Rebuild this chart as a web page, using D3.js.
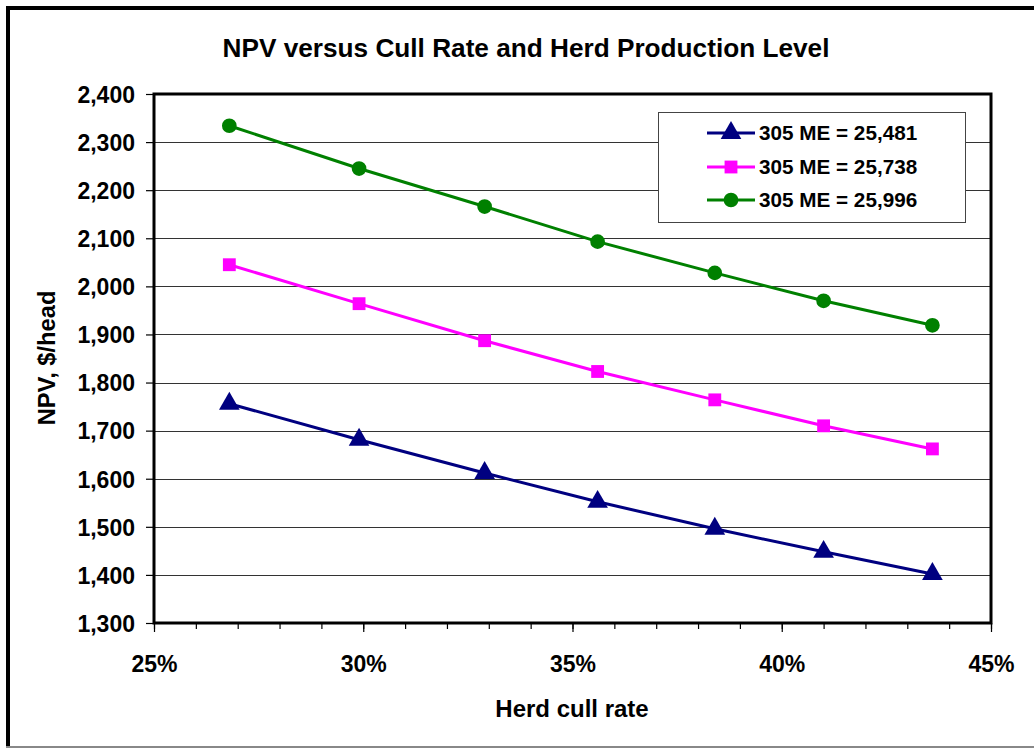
<!DOCTYPE html>
<html>
<head>
<meta charset="utf-8">
<script src="https://cdn.jsdelivr.net/npm/d3@7"></script>
<style>
  body { margin: 0; background: #fff; }
  text { font-family: "Liberation Sans", Arial, sans-serif; font-weight: bold; fill: #000; }
</style>
</head>
<body>
<script>
var width = 1034,
    height = 748;

// herd cull rate (%) and NPV ($/head) for each production level
var cullRate = [26.8, 29.9, 32.9, 35.6, 38.4, 41.0, 43.6];
var npvLow = [1756, 1681, 1612, 1552, 1496, 1448, 1402];
var npvMid = [2045, 1964, 1887, 1823, 1764, 1710, 1662];
var npvHigh = [2334, 2245, 2166, 2093, 2028, 1970, 1919];
var seriesNames = ["305 ME = 25,481", "305 ME = 25,738", "305 ME = 25,996"];
var yTicks = [1300, 1400, 1500, 1600, 1700, 1800, 1900, 2000, 2100, 2200, 2300, 2400];
var xTicks = [25, 30, 35, 40, 45];

var series = [
  { name: seriesNames[0], values: npvLow, color: "#000080", shape: d3.symbolTriangle, size: 185 },
  { name: seriesNames[1], values: npvMid, color: "#FF00FF", shape: d3.symbolSquare, size: 165 },
  { name: seriesNames[2], values: npvHigh, color: "#008000", shape: d3.symbolCircle, size: 170 }
];

var plot = { left: 154, top: 94, right: 991, bottom: 623 };

var svg = d3.select("body").append("svg")
    .attr("width", width)
    .attr("height", height);

// outer frame
svg.append("line").attr("x1", 8).attr("y1", 6).attr("x2", 8).attr("y2", 748)
    .attr("stroke", "#000").attr("stroke-width", 4);
svg.append("line").attr("x1", 6).attr("y1", 8).attr("x2", 1034).attr("y2", 8)
    .attr("stroke", "#000").attr("stroke-width", 4);
svg.append("line").attr("x1", 6).attr("y1", 747).attr("x2", 1034).attr("y2", 747)
    .attr("stroke", "#888").attr("stroke-width", 2);

var x = d3.scaleLinear().domain([25, 45]).range([plot.left, plot.right]);
var y = d3.scaleLinear().domain([1300, 2400]).range([plot.bottom, plot.top]);

// gridlines
svg.append("g").selectAll("line")
  .data(yTicks.slice(1, -1))
  .enter().append("line")
    .attr("x1", plot.left).attr("x2", plot.right)
    .attr("y1", function(d) { return Math.round(y(d)) + 0.5; })
    .attr("y2", function(d) { return Math.round(y(d)) + 0.5; })
    .attr("stroke", "#333").attr("stroke-width", 1);

// y axis
var yAxis = svg.append("g")
    .attr("transform", "translate(" + plot.left + ",0)")
    .call(d3.axisLeft(y).tickValues(yTicks).tickSize(8).tickPadding(11)
      .tickFormat(d3.format(",")));
yAxis.select(".domain").remove();
yAxis.selectAll("line").attr("stroke", "#000").attr("stroke-width", 1.2);
yAxis.selectAll("text").style("font-size", "23px").attr("dy", "0.36em");

// x axis: minor ticks every 1%, major every 5%
var xAxisMinor = svg.append("g")
    .attr("transform", "translate(0," + plot.bottom + ")")
    .call(d3.axisBottom(x).ticks(20).tickSize(6).tickFormat(""));
xAxisMinor.select(".domain").remove();
xAxisMinor.selectAll("line").attr("stroke", "#000").attr("stroke-width", 1.2);

var xAxis = svg.append("g")
    .attr("transform", "translate(0," + plot.bottom + ")")
    .call(d3.axisBottom(x).tickValues(xTicks).tickSize(9).tickPadding(24)
      .tickFormat(function(d) { return d + "%"; }));
xAxis.select(".domain").remove();
xAxis.selectAll("line").attr("stroke", "#000").attr("stroke-width", 1.2);
xAxis.selectAll("text").style("font-size", "23px");

// plot border
svg.append("rect")
    .attr("x", plot.left).attr("y", plot.top)
    .attr("width", plot.right - plot.left)
    .attr("height", plot.bottom - plot.top)
    .attr("fill", "none").attr("stroke", "#000").attr("stroke-width", 3);

// lines and markers
var line = d3.line()
    .x(function(d, i) { return x(cullRate[i]); })
    .y(function(d) { return y(d); });

series.forEach(function(s) {
  svg.append("path")
      .datum(s.values)
      .attr("d", line)
      .attr("fill", "none")
      .attr("stroke", s.color)
      .attr("stroke-width", 3);

  svg.append("g").selectAll("path")
    .data(s.values)
    .enter().append("path")
      .attr("d", d3.symbol().type(s.shape).size(s.size))
      .attr("transform", function(d, i) {
        return "translate(" + x(cullRate[i]) + "," + y(d) + ")";
      })
      .attr("fill", s.color);
});

// legend
var legend = svg.append("g");
legend.append("rect")
    .attr("x", 658.5).attr("y", 112.5)
    .attr("width", 307).attr("height", 110)
    .attr("fill", "#fff").attr("stroke", "#444").attr("stroke-width", 1);

var rowY = [133, 167, 200];
series.forEach(function(s, i) {
  var g = legend.append("g").attr("transform", "translate(0," + rowY[i] + ")");
  g.append("line").attr("x1", 707).attr("x2", 755).attr("y1", 0).attr("y2", 0)
      .attr("stroke", s.color).attr("stroke-width", 3);
  g.append("path").attr("d", d3.symbol().type(s.shape).size(s.size))
      .attr("transform", "translate(731,0)").attr("fill", s.color);
  g.append("text").attr("x", 759).attr("y", 0).attr("dy", "0.36em")
      .style("font-size", "20.7px").text(s.name);
});

// titles
svg.append("text")
    .attr("x", 526).attr("y", 57)
    .attr("text-anchor", "middle")
    .style("font-size", "26.2px")
    .text("NPV versus Cull Rate and Herd Production Level");

svg.append("text")
    .attr("x", 572).attr("y", 717)
    .attr("text-anchor", "middle")
    .style("font-size", "24px")
    .text("Herd cull rate");

svg.append("text")
    .attr("transform", "translate(55,358) rotate(-90)")
    .attr("text-anchor", "middle")
    .style("font-size", "23.7px")
    .text("NPV, $/head");
</script>
</body>
</html>
